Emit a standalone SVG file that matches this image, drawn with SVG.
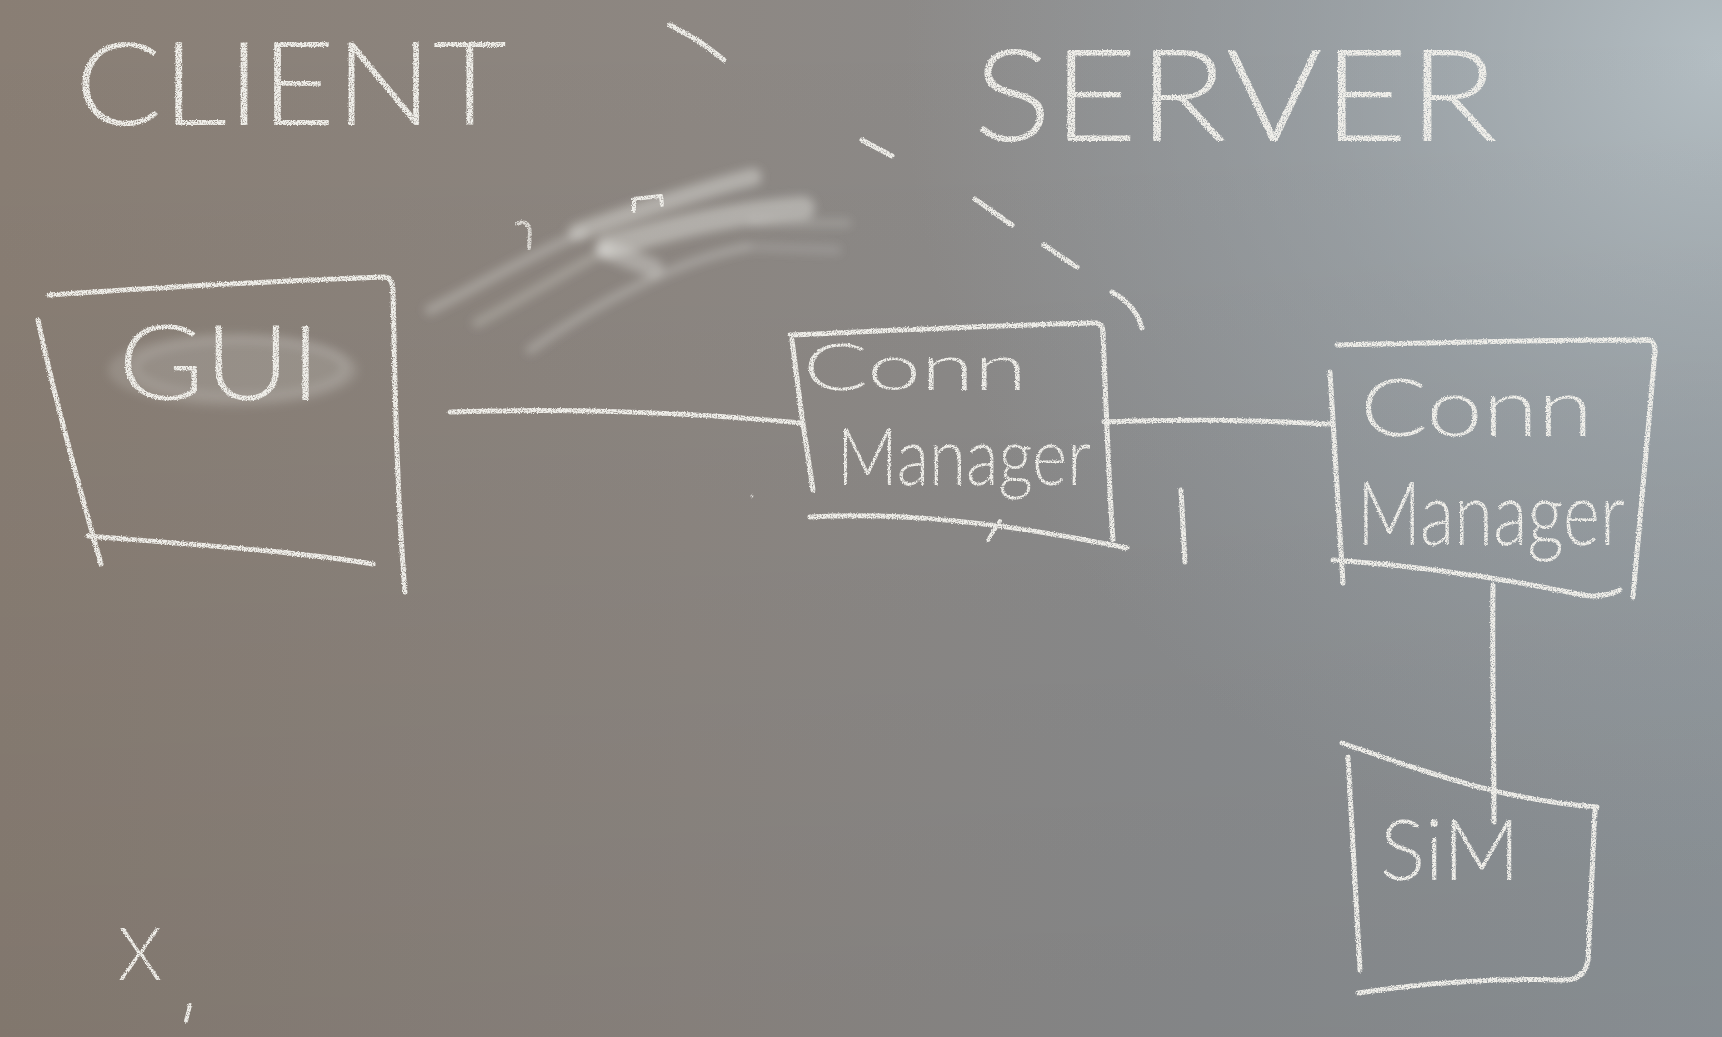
<svg xmlns="http://www.w3.org/2000/svg" width="1722" height="1037" viewBox="0 0 1722 1037">
<defs>
<linearGradient id="bgH" x1="0" y1="0" x2="1" y2="0">
<stop offset="0" stop-color="#897e74"/>
<stop offset="0.4" stop-color="#8d8782"/>
<stop offset="0.7" stop-color="#8b8d8f"/>
<stop offset="1" stop-color="#8f969b"/>
</linearGradient>
<radialGradient id="glow" cx="1722" cy="60" r="820" gradientUnits="userSpaceOnUse">
<stop offset="0" stop-color="#b4bec3" stop-opacity="1"/>
<stop offset="0.5" stop-color="#a5adb2" stop-opacity="0.5"/>
<stop offset="1" stop-color="#a0a6aa" stop-opacity="0"/>
</radialGradient>
<linearGradient id="shade" x1="0" y1="0" x2="0" y2="1">
<stop offset="0" stop-color="#000" stop-opacity="0"/>
<stop offset="1" stop-color="#000" stop-opacity="0.06"/>
</linearGradient>
<filter id="chalk" x="-10%" y="-10%" width="120%" height="120%">
<feTurbulence type="fractalNoise" baseFrequency="0.8" numOctaves="2" seed="4" result="n"/>
<feDisplacementMap in="SourceGraphic" in2="n" scale="3" xChannelSelector="R" yChannelSelector="G" result="d"/>
<feColorMatrix in="n" type="matrix" values="0 0 0 0 0  0 0 0 0 0  0 0 0 0 0  3 0 0 0 -0.55" result="m"/>
<feComposite in="d" in2="m" operator="in"/>
</filter>
<filter id="blur" x="-20%" y="-50%" width="140%" height="200%">
<feGaussianBlur stdDeviation="5"/>
</filter>
</defs>
<style>
.ch{fill:none;stroke:#efeee9;stroke-width:5;stroke-linecap:round;stroke-linejoin:round}
.th{stroke-width:4}
.tx{fill:#f0efea;font-family:Lato,"Open Sans","Liberation Sans",sans-serif;font-weight:300}
.sm{fill:none;stroke:#e6e6e2;stroke-linecap:round}
</style>
<rect width="1722" height="1037" fill="url(#bgH)"/>
<rect width="1722" height="1037" fill="url(#glow)"/>
<rect width="1722" height="1037" fill="url(#shade)"/>

<g id="erased-smudge" filter="url(#blur)">
<path class="sm" d="M577,232 C640,210 700,190 753,177" stroke-width="18" opacity="0.42"/>
<path class="sm" d="M607,247 C680,225 740,212 803,208" stroke-width="24" opacity="0.42"/>
<path class="sm" d="M430,310 C480,285 530,255 583,233" stroke-width="11" opacity="0.3"/>
<path class="sm" d="M477,323 C520,300 560,275 607,250" stroke-width="10" opacity="0.26"/>
<path class="sm" d="M530,350 C600,300 680,260 747,247" stroke-width="9" opacity="0.3"/>
<path class="sm" d="M753,223 L847,223" stroke-width="9" opacity="0.2"/>
<path class="sm" d="M753,247 L837,250" stroke-width="9" opacity="0.18"/>
<path class="sm" d="M607,250 L653,268" stroke-width="20" opacity="0.36"/>
</g>
<g id="erased-marks" filter="url(#chalk)">
<path class="ch th" d="M634,211 L634,199 L661,196 L662,205"/>
<path class="ch th" d="M517,224 Q528,218 530,232 L529,248" opacity="0.8"/>
</g>

<g id="boundary" filter="url(#chalk)">
<path class="ch" d="M670,25 Q700,40 724,60"/>
<path class="ch" d="M862,140 L892,156"/>
<path class="ch" d="M975,199 L1012,225"/>
<path class="ch" d="M1044,245 L1077,267"/>
<path class="ch" d="M1112,292 Q1136,305 1142,328"/>
</g>

<g id="client-label" filter="url(#chalk)">
<text class="tx" x="75" y="125" font-size="116" textLength="432" lengthAdjust="spacingAndGlyphs">CLIENT</text>
</g>
<g id="server-label" filter="url(#chalk)">
<text class="tx" x="973" y="141" font-size="128" textLength="525" lengthAdjust="spacingAndGlyphs">SERVER</text>
</g>

<g id="gui">
<ellipse cx="233" cy="370" rx="125" ry="37" fill="#e8e8e4" opacity="0.16" filter="url(#blur)"/>
<ellipse cx="240" cy="368" rx="105" ry="28" fill="none" stroke="#e8e8e4" stroke-width="6" opacity="0.18" filter="url(#blur)"/>
<g filter="url(#chalk)">
<path class="ch" d="M49,295 C150,288 300,280 384,277 Q393,277 393,292"/>
<path class="ch" d="M393,292 C395,380 396,480 405,592"/>
<path class="ch" d="M38,320 C55,400 80,490 101,564"/>
<path class="ch" d="M88,536 C200,545 300,552 373,564"/>
<text class="tx" x="118" y="400" font-size="105" textLength="203" lengthAdjust="spacingAndGlyphs">GUI</text>
</g>
</g>

<g id="conn-manager-client" filter="url(#chalk)">
<path class="ch" d="M790,335 C900,330 1000,325 1097,323 Q1103,324 1103,333"/>
<path class="ch" d="M1103,333 C1106,400 1108,470 1113,540"/>
<path class="ch" d="M792,340 C798,390 805,440 813,490"/>
<path class="ch" d="M810,517 C900,512 1000,522 1127,548"/>
<path class="ch th" d="M1000,521 L988,540"/>
<text class="tx" x="803" y="390" font-size="66" textLength="224" lengthAdjust="spacingAndGlyphs">Conn</text>
<text class="tx" x="837" y="485" font-size="80" textLength="254" lengthAdjust="spacingAndGlyphs">Manager</text>
</g>

<g id="conn-manager-server" filter="url(#chalk)">
<path class="ch" d="M1337,345 C1450,342 1550,340 1650,340 Q1655,342 1655,352"/>
<path class="ch" d="M1655,352 C1648,430 1640,520 1633,597"/>
<path class="ch" d="M1330,372 C1334,440 1338,510 1343,583"/>
<path class="ch" d="M1333,560 C1420,566 1500,578 1573,593 Q1600,600 1620,590"/>
<text class="tx" x="1360" y="436" font-size="80" textLength="233" lengthAdjust="spacingAndGlyphs">Conn</text>
<text class="tx" x="1357" y="545" font-size="88" textLength="268" lengthAdjust="spacingAndGlyphs">Manager</text>
</g>

<g id="sim" filter="url(#chalk)">
<path class="ch" d="M1342,743 C1420,770 1500,800 1597,807"/>
<path class="ch" d="M1595,810 C1592,870 1590,930 1588,960 Q1585,978 1568,980"/>
<path class="ch" d="M1348,757 C1352,830 1356,900 1360,970"/>
<path class="ch" d="M1358,993 C1430,982 1500,978 1568,980"/>
<text class="tx" x="1380" y="880" font-size="84" textLength="140" lengthAdjust="spacingAndGlyphs">SiM</text>
</g>

<g id="connectors" filter="url(#chalk)">
<path class="ch" d="M450,412 C560,408 690,412 801,423"/>
<path class="ch" d="M1104,422 C1180,419 1260,420 1330,424"/>
<path class="ch" d="M1493,585 C1492,660 1494,740 1494,822"/>
</g>

<g id="annotations" filter="url(#chalk)">
<path class="ch" d="M1181,490 L1185,562"/>
<text class="tx" x="118" y="980" font-size="72" textLength="44" lengthAdjust="spacingAndGlyphs">X</text>
<path class="ch th" d="M190,1005 L186,1021"/>
<circle cx="752" cy="496" r="1.5" fill="#e8e8e4"/>
</g>
</svg>
